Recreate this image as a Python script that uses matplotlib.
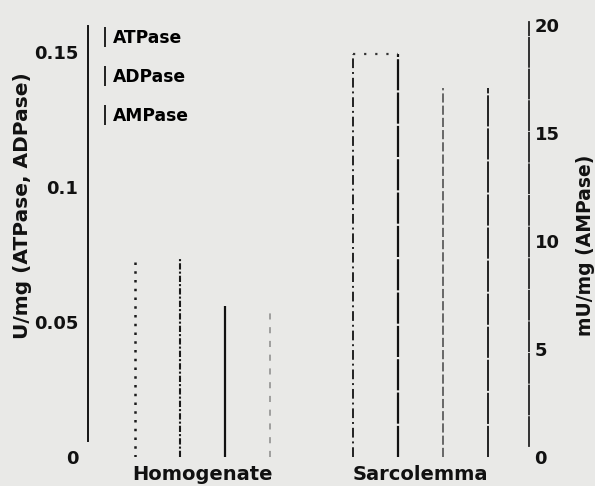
import matplotlib
matplotlib.use('Agg')
import matplotlib.pyplot as plt
from matplotlib.lines import Line2D

# valores
grupos = ['Homogenate', 'Sarcolemma']
atpase = [0.074, 0.149]   # U/mg
adpase = [0.056, 0.130]   # U/mg
ampase = [6.8, 17.1]      # mU/mg

ticks_izq = [0, 0.05, 0.1, 0.15]
etiq_izq = ['0', '0.05', '0.1', '0.15']
ticks_der = [0, 5, 10, 15, 20]

lim_izq = 0.161
lim_der = 20.14
ancho = 0.206  # ancho de cada barra

# estilo de cada borde vertical (el escaneo solo conserva los bordes)
estilos = [
    [((0, (1, 2.5)), '#1a1a1a', 1.8), ((0, (3, 1, 1, 1)), '#1a1a1a', 1.5),
     ('-', '#111111', 1.6), ((0, (4, 5)), '#8a8a8a', 1.1)],
    [((0, (5, 2, 1, 2)), '#222222', 1.4), ((0, (14, 1)), '#111111', 1.6),
     ((0, (6, 2)), '#444444', 1.1), ((0, (16, 1)), '#222222', 1.4)],
]
tope_punteado = [False, True]

plt.rcParams['font.family'] = ['DejaVu Sans']
plt.rcParams['font.weight'] = 'bold'

fig = plt.figure(figsize=(5.95, 4.86), dpi=100, facecolor='#e9e9e7')
ax = fig.add_axes([88 / 595, 29 / 486, 441 / 595, 435 / 486])
ax.set_facecolor('none')
ax2 = ax.twinx()

escala = lim_izq / lim_der
for g in range(len(grupos)):
    alturas = [atpase[g], adpase[g], ampase[g] * escala]
    for j in range(4):
        x = g + (j - 1.5) * ancho
        vecinos = alturas[max(j - 1, 0):min(j + 1, 3)]
        h = max(vecinos)
        ls, c, lw = estilos[g][j]
        ax.vlines(x, 0, h, linestyles=[ls], colors=c, linewidth=lw)
    if tope_punteado[g]:
        ax.hlines(atpase[g], g - 1.5 * ancho, g - 0.5 * ancho,
                  linestyles=[(0, (1, 4))], colors='#333333', linewidth=1.6)

ax.set_xlim(-0.525, 1.498)
ax.set_ylim(0, lim_izq)
ax2.set_ylim(0, lim_der)

ax.set_xticks(range(len(grupos)))
ax.set_xticklabels(grupos, fontsize=14, fontweight='bold', color='#111111')
ax.set_yticks(ticks_izq)
ax.set_yticklabels(etiq_izq, fontsize=13, fontweight='bold', color='#111111')
ax2.set_yticks(ticks_der)
ax2.set_yticklabels([str(t) for t in ticks_der], fontsize=13, fontweight='bold', color='#111111')
ax.tick_params(axis='both', length=0)
ax.tick_params(axis='y', pad=7)
ax.tick_params(axis='x', pad=6)
ax2.tick_params(axis='y', length=0, pad=4)

for a in (ax, ax2):
    a.spines['top'].set_visible(False)
    a.spines['bottom'].set_visible(False)
ax2.spines['left'].set_visible(False)
ax.spines['right'].set_visible(False)
ax.spines['left'].set_color('#151515')
ax.spines['left'].set_linewidth(1.4)
ax.spines['left'].set_bounds(0.006, lim_izq * 0.99)
ax2.spines['right'].set_color('#222222')
ax2.spines['right'].set_linewidth(1.3)
ax2.spines['right'].set_linestyle((0, (16, 1.5)))
ax2.spines['right'].set_bounds(0.5, lim_der)

ax.set_ylabel('U/mg (ATPase, ADPase)', fontsize=14.5, fontweight='bold', color='#111111')
ax.yaxis.set_label_coords(-0.127, 0.578)
ax2.set_ylabel('mU/mg (AMPase)', fontsize=13.5, fontweight='bold', color='#111111')
ax2.yaxis.set_label_coords(1.107, 0.487)

# leyenda (solo queda la raya vertical de cada muestra)
manijas = [Line2D([], [], marker='|', linestyle='None', markersize=15,
                  markeredgewidth=1.3, color='#111111') for _ in range(3)]
ax.legend(manijas, ['ATPase', 'ADPase', 'AMPase'], loc='upper left',
          bbox_to_anchor=(0.031, 0.985), frameon=False, handlelength=0.4,
          handletextpad=0.25, labelspacing=1.25, borderpad=0, borderaxespad=0,
          prop={'size': 12.3, 'weight': 'bold'})

fig.savefig('out.png', dpi=100, facecolor=fig.get_facecolor())
